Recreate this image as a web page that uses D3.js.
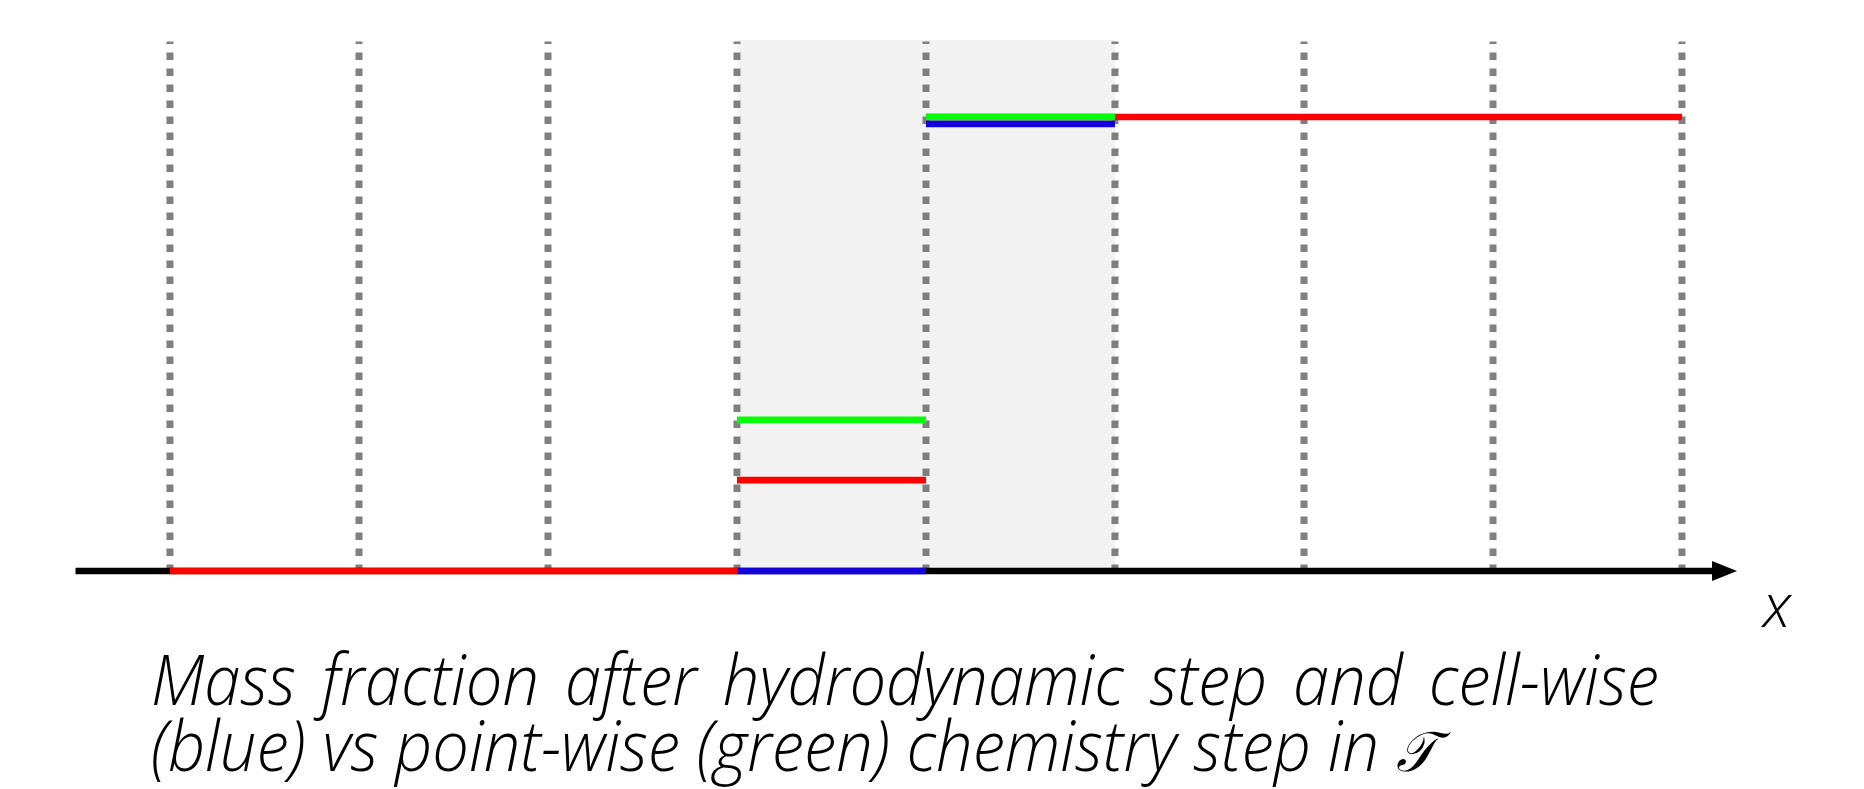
<!DOCTYPE html>
<head>
  <meta charset="utf-8">
  <title>Mass fraction step</title>
  <script src="https://cdn.jsdelivr.net/npm/d3@7"></script>
</head>

<style>
  body {
    margin: 0;
    background: #fff;
  }

  .caption, .axis-label {
    font-family: "Open Sans", sans-serif;
    font-style: italic;
    font-weight: 300;
    fill: #000;
  }

  .grid-line {
    stroke: #808080;
    stroke-width: 7;
    stroke-dasharray: 7.5, 8.5;
    stroke-dashoffset: 5;
  }
</style>

<body>
  <svg id='svg-chart'></svg>
</body>

<script>

var width = 1864,
    height = 789;

// cell boundaries (grid lines) and the per-cell mass fractions
var cell_edges = [0, 1, 2, 3, 4, 5, 6, 7, 8];
var red_cells = [0, 1, 2, 3, 4, 5, 6, 7];
var red_values = [0, 0, 0, 0.2, 1, 1, 1, 1];
var blue_cells = [3, 4];
var blue_values = [0, 0.985];
var green_cells = [3, 4];
var green_values = [0.333, 1];
var shaded_cells = [3, 5];

var caption_lines = ['Mass fraction after hydrodynamic step and cell-wise',
                     '(blue) vs point-wise (green) chemistry step in'];
var caption_symbol = '\u{1D4AF}';

var x = d3.scaleLinear().domain([0, 8]).range([170, 1682]),
    y = d3.scaleLinear().domain([0, 1]).range([571, 117]),
    line_w = 6.7,
    top_y = 41.5;

var svg = d3.select('#svg-chart')
  .attr('width', width)
  .attr('height', height);

// shaded cells
svg.append('rect')
  .attr('x', x(shaded_cells[0]))
  .attr('y', 40)
  .attr('width', x(shaded_cells[1]) - x(shaded_cells[0]))
  .attr('height', y(0) - 40)
  .attr('fill', '#f2f2f2');

// dotted cell boundaries
svg.selectAll('.grid-line')
  .data(cell_edges)
  .enter()
  .append('line')
  .attr('class', 'grid-line')
  .attr('x1', function(d) { return x(d); })
  .attr('x2', function(d) { return x(d); })
  .attr('y1', top_y)
  .attr('y2', y(0));

// x axis with arrow
var axis_start = x(-0.5),
    axis_end = x(8) + 30;
svg.append('line')
  .attr('x1', axis_start)
  .attr('x2', axis_end)
  .attr('y1', y(0))
  .attr('y2', y(0))
  .attr('stroke', '#000')
  .attr('stroke-width', line_w);
svg.append('path')
  .attr('d', 'M' + axis_end + ',' + (y(0) - 10) + 'L' + (axis_end + 25) + ',' + y(0) + 'L' + axis_end + ',' + (y(0) + 10) + 'Z')
  .attr('fill', '#000');

svg.append('text')
  .attr('class', 'axis-label')
  .attr('x', 1763)
  .attr('y', 627)
  .attr('font-size', 60)
  .text('x');

function draw_steps(cells, values, colour) {
  svg.selectAll(null)
    .data(cells)
    .enter()
    .append('line')
    .attr('x1', function(d) { return x(d); })
    .attr('x2', function(d) { return x(d + 1); })
    .attr('y1', function(d, i) { return y(values[i]); })
    .attr('y2', function(d, i) { return y(values[i]); })
    .attr('stroke', colour)
    .attr('stroke-width', line_w);
}

draw_steps(red_cells, red_values, '#ff0000');
draw_steps(blue_cells, blue_values, '#1400dc');
draw_steps(green_cells, green_values, '#00ff00');

// caption: glyphs squeezed horizontally; the squeeze comes from a few
// word extents, first line justified to full width
var cap_x = 151,
    cap_font = 70,
    line1_w = 1659 - cap_x;

function text_w(s) {
  var t = svg.append('text').attr('class', 'caption').attr('font-size', cap_font).text(s);
  var w = t.node().getComputedTextLength();
  t.remove();
  return w;
}
var sp = text_w('a b') - text_w('ab');
var chem_end = caption_lines[1].indexOf('chemistry') + 'chemistry'.length;
var sx = (145 / text_w('Mass') +
          117 / text_w('wise') +
          (1190 - cap_x) / text_w(caption_lines[1].slice(0, chem_end))) / 3;

var l2 = svg.append('text')
  .attr('class', 'caption')
  .attr('font-size', cap_font)
  .attr('transform', 'translate(' + cap_x + ',771) scale(' + sx + ',1)')
  .text(caption_lines[1]);
var l2_end = cap_x + (l2.node().getComputedTextLength() + sp) * sx;

svg.append('text')
  .attr('class', 'caption')
  .attr('font-size', cap_font * 0.8)
  .attr('transform', 'translate(' + l2_end + ',771) scale(' + sx + ',1)')
  .text(caption_symbol);

var l1 = svg.append('text')
  .attr('class', 'caption')
  .attr('font-size', cap_font)
  .text(caption_lines[0]);
var nat1 = l1.node().getComputedTextLength() * sx;
var n_spaces = caption_lines[0].split(' ').length - 1;
l1.attr('word-spacing', (line1_w - nat1) / n_spaces / sx)
  .attr('transform', 'translate(' + cap_x + ',705) scale(' + sx + ',1)');

</script>
